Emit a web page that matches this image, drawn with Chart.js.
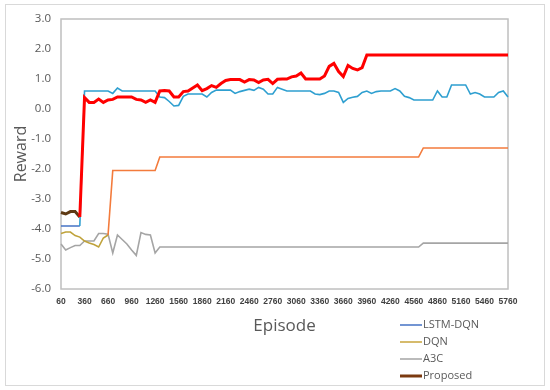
<!DOCTYPE html>
<html>
<head>
<meta charset="utf-8">
<script src="https://cdn.jsdelivr.net/npm/chart.js@4.4.0/dist/chart.umd.min.js"></script>
<style>
  html, body { margin: 0; padding: 0; background: #fff; }
  #wrap { position: relative; width: 550px; height: 390px; }
</style>
</head>
<body>
<div id="wrap"><canvas id="chart" width="550" height="390"></canvas></div>
<script>
// === Данные ===
// эпизоды идут ровным шагом 60: 60, 120, ... 5760
const episodes = Array.from({ length: 96 }, (_, i) => String(60 + i * 60));
const tickEvery = 5; // подписывается каждый 5-й эпизод: 60, 360, 660 ...

const lstmDqn = [
  -3.9, -3.9, -3.9, -3.9, -3.9, 0.6, 0.6, 0.6, 0.6, 0.6,
  0.6, 0.52, 0.7, 0.6, 0.6, 0.6, 0.6, 0.6, 0.6, 0.6,
  0.6, 0.4, 0.38, 0.25, 0.1, 0.12, 0.42, 0.5, 0.5, 0.5,
  0.5, 0.4, 0.55, 0.63, 0.63, 0.63, 0.63, 0.52, 0.58, 0.62,
  0.66, 0.62, 0.72, 0.66, 0.5, 0.5, 0.72, 0.66, 0.6, 0.6,
  0.6, 0.6, 0.6, 0.6, 0.5, 0.48, 0.52, 0.6, 0.6, 0.55,
  0.22, 0.35, 0.39, 0.42, 0.55, 0.6, 0.52, 0.58, 0.6, 0.6,
  0.6, 0.68, 0.6, 0.42, 0.38, 0.3, 0.3, 0.3, 0.3, 0.3,
  0.6, 0.4, 0.4, 0.8, 0.8, 0.8, 0.8, 0.5, 0.55, 0.5,
  0.4, 0.4, 0.4, 0.55, 0.6, 0.4
];

const dqn = [
  -4.15, -4.1, -4.1, -4.22, -4.27, -4.4, -4.47, -4.52, -4.6, -4.3,
  -4.2, -2.05, -2.05, -2.05, -2.05, -2.05, -2.05, -2.05, -2.05, -2.05,
  -2.05, -1.6, -1.6, -1.6, -1.6, -1.6, -1.6, -1.6, -1.6, -1.6,
  -1.6, -1.6, -1.6, -1.6, -1.6, -1.6, -1.6, -1.6, -1.6, -1.6,
  -1.6, -1.6, -1.6, -1.6, -1.6, -1.6, -1.6, -1.6, -1.6, -1.6,
  -1.6, -1.6, -1.6, -1.6, -1.6, -1.6, -1.6, -1.6, -1.6, -1.6,
  -1.6, -1.6, -1.6, -1.6, -1.6, -1.6, -1.6, -1.6, -1.6, -1.6,
  -1.6, -1.6, -1.6, -1.6, -1.6, -1.6, -1.6, -1.3, -1.3, -1.3,
  -1.3, -1.3, -1.3, -1.3, -1.3, -1.3, -1.3, -1.3, -1.3, -1.3,
  -1.3, -1.3, -1.3, -1.3, -1.3, -1.3
];

const a3c = [
  -4.5, -4.7, -4.62, -4.55, -4.55, -4.4, -4.4, -4.4, -4.15, -4.15,
  -4.17, -4.8, -4.2, -4.35, -4.5, -4.7, -4.88, -4.12, -4.18, -4.2,
  -4.8, -4.6, -4.6, -4.6, -4.6, -4.6, -4.6, -4.6, -4.6, -4.6,
  -4.6, -4.6, -4.6, -4.6, -4.6, -4.6, -4.6, -4.6, -4.6, -4.6,
  -4.6, -4.6, -4.6, -4.6, -4.6, -4.6, -4.6, -4.6, -4.6, -4.6,
  -4.6, -4.6, -4.6, -4.6, -4.6, -4.6, -4.6, -4.6, -4.6, -4.6,
  -4.6, -4.6, -4.6, -4.6, -4.6, -4.6, -4.6, -4.6, -4.6, -4.6,
  -4.6, -4.6, -4.6, -4.6, -4.6, -4.6, -4.6, -4.47, -4.47, -4.47,
  -4.47, -4.47, -4.47, -4.47, -4.47, -4.47, -4.47, -4.47, -4.47, -4.47,
  -4.47, -4.47, -4.47, -4.47, -4.47, -4.47
];

const proposed = [
  -3.45, -3.5, -3.42, -3.42, -3.6, 0.38, 0.22, 0.22, 0.33, 0.22,
  0.3, 0.32, 0.4, 0.4, 0.4, 0.4, 0.32, 0.3, 0.22, 0.3,
  0.22, 0.6, 0.62, 0.6, 0.4, 0.4, 0.58, 0.6, 0.7, 0.8,
  0.61, 0.68, 0.78, 0.72, 0.85, 0.95, 0.98, 0.98, 0.98, 0.9,
  0.98, 0.97, 0.88, 0.97, 0.99, 0.85, 0.99, 1.0, 1.0, 1.07,
  1.1, 1.2, 1.0, 1.0, 1.0, 1.0, 1.1, 1.42, 1.52, 1.25,
  1.08, 1.45, 1.35, 1.3, 1.38, 1.8, 1.8, 1.8, 1.8, 1.8,
  1.8, 1.8, 1.8, 1.8, 1.8, 1.8, 1.8, 1.8, 1.8, 1.8,
  1.8, 1.8, 1.8, 1.8, 1.8, 1.8, 1.8, 1.8, 1.8, 1.8,
  1.8, 1.8, 1.8, 1.8, 1.8, 1.8
];

// === Оформление ===
const gray = '#595959';

// начало линии другим цветом (как на исходнике)
function headColor(n, head, rest) {
  return ctx => (ctx.p0DataIndex < n ? head : rest);
}

// === Рамки: внешняя и вокруг области графика ===
const framePlugin = {
  id: 'frame',
  beforeDraw(chart) {
    const c = chart.ctx;
    c.save();
    c.fillStyle = '#fff';
    c.fillRect(0, 0, chart.width, chart.height);
    c.strokeStyle = '#d9d9d9';
    c.lineWidth = 1;
    c.strokeRect(5.5, 4.5, 539, 381);
    c.restore();
  },
  beforeDatasetsDraw(chart) {
    const { left, top, right, bottom } = chart.chartArea;
    const c = chart.ctx;
    c.save();
    c.strokeStyle = '#bfbfbf';
    c.lineWidth = 1.5;
    c.strokeRect(left, top, right - left, bottom - top);
    c.restore();
  }
};

// === Легенда справа внизу ===
const legendPlugin = {
  id: 'sideLegend',
  afterDraw(chart) {
    const c = chart.ctx;
    c.save();
    c.font = '11px "Open Sans"';
    c.textBaseline = 'middle';
    chart.data.datasets.forEach((ds, i) => {
      const y = 325 + i * 17;
      c.strokeStyle = ds.legendColor;
      c.lineWidth = ds.label === 'Proposed' ? 3 : 1.5;
      c.beginPath();
      c.moveTo(400, y);
      c.lineTo(422, y);
      c.stroke();
      c.fillStyle = gray;
      c.fillText(ds.label, 423, y);
    });
    c.restore();
  }
};

new Chart(document.getElementById('chart'), {
  type: 'line',
  data: {
    labels: episodes,
    datasets: [
      {
        label: 'LSTM-DQN', data: lstmDqn, legendColor: '#4472c4',
        borderColor: '#2e9fd0', borderWidth: 1.6,
        segment: { borderColor: headColor(4, '#4472c4', '#2e9fd0') }
      },
      {
        label: 'DQN', data: dqn, legendColor: '#c9a53b',
        borderColor: '#f37b3c', borderWidth: 1.6,
        segment: { borderColor: headColor(10, '#bfa23a', '#f37b3c') }
      },
      {
        label: 'A3C', data: a3c, legendColor: '#a5a5a5',
        borderColor: '#a5a5a5', borderWidth: 1.6
      },
      {
        label: 'Proposed', data: proposed, legendColor: '#7b3a10', order: -1,
        borderColor: '#ff0000', borderWidth: 3,
        segment: { borderColor: headColor(4, '#5e3a14', '#ff0000') }
      }
    ]
  },
  options: {
    responsive: false,
    animation: false,
    layout: { padding: { left: 0, top: 19, right: 42, bottom: 50 } },
    elements: { point: { radius: 0 }, line: { tension: 0 } },
    plugins: { legend: { display: false }, tooltip: { enabled: false } },
    scales: {
      x: {
        offset: false,
        grid: { display: false, drawTicks: false },
        border: { display: false },
        ticks: {
          autoSkip: false, maxRotation: 0, padding: 8, color: '#404040',
          font: { family: '"Liberation Sans", sans-serif', size: 8.5, weight: '600' },
          callback(v, i) { return i % tickEvery === 0 ? this.getLabelForValue(v) : ''; }
        },
        title: {
          display: true, text: 'Episode', color: gray,
          font: { family: '"Open Sans"', size: 17 }, padding: { top: 0, bottom: 4 }
        },
        afterFit(s) { s.height = 51; }
      },
      y: {
        min: -6, max: 3,
        grid: { display: false, drawTicks: false },
        border: { display: false },
        ticks: {
          stepSize: 1, padding: 10, color: gray,
          font: { family: '"Open Sans"', size: 11.5 },
          callback: v => v.toFixed(1)
        },
        title: {
          display: true, text: 'Reward', color: gray,
          font: { family: '"Open Sans"', size: 16 }, padding: { top: 12, bottom: 0 }
        },
        afterFit(s) { s.width = 61; }
      }
    }
  },
  plugins: [framePlugin, legendPlugin]
});
</script>
</body>
</html>
